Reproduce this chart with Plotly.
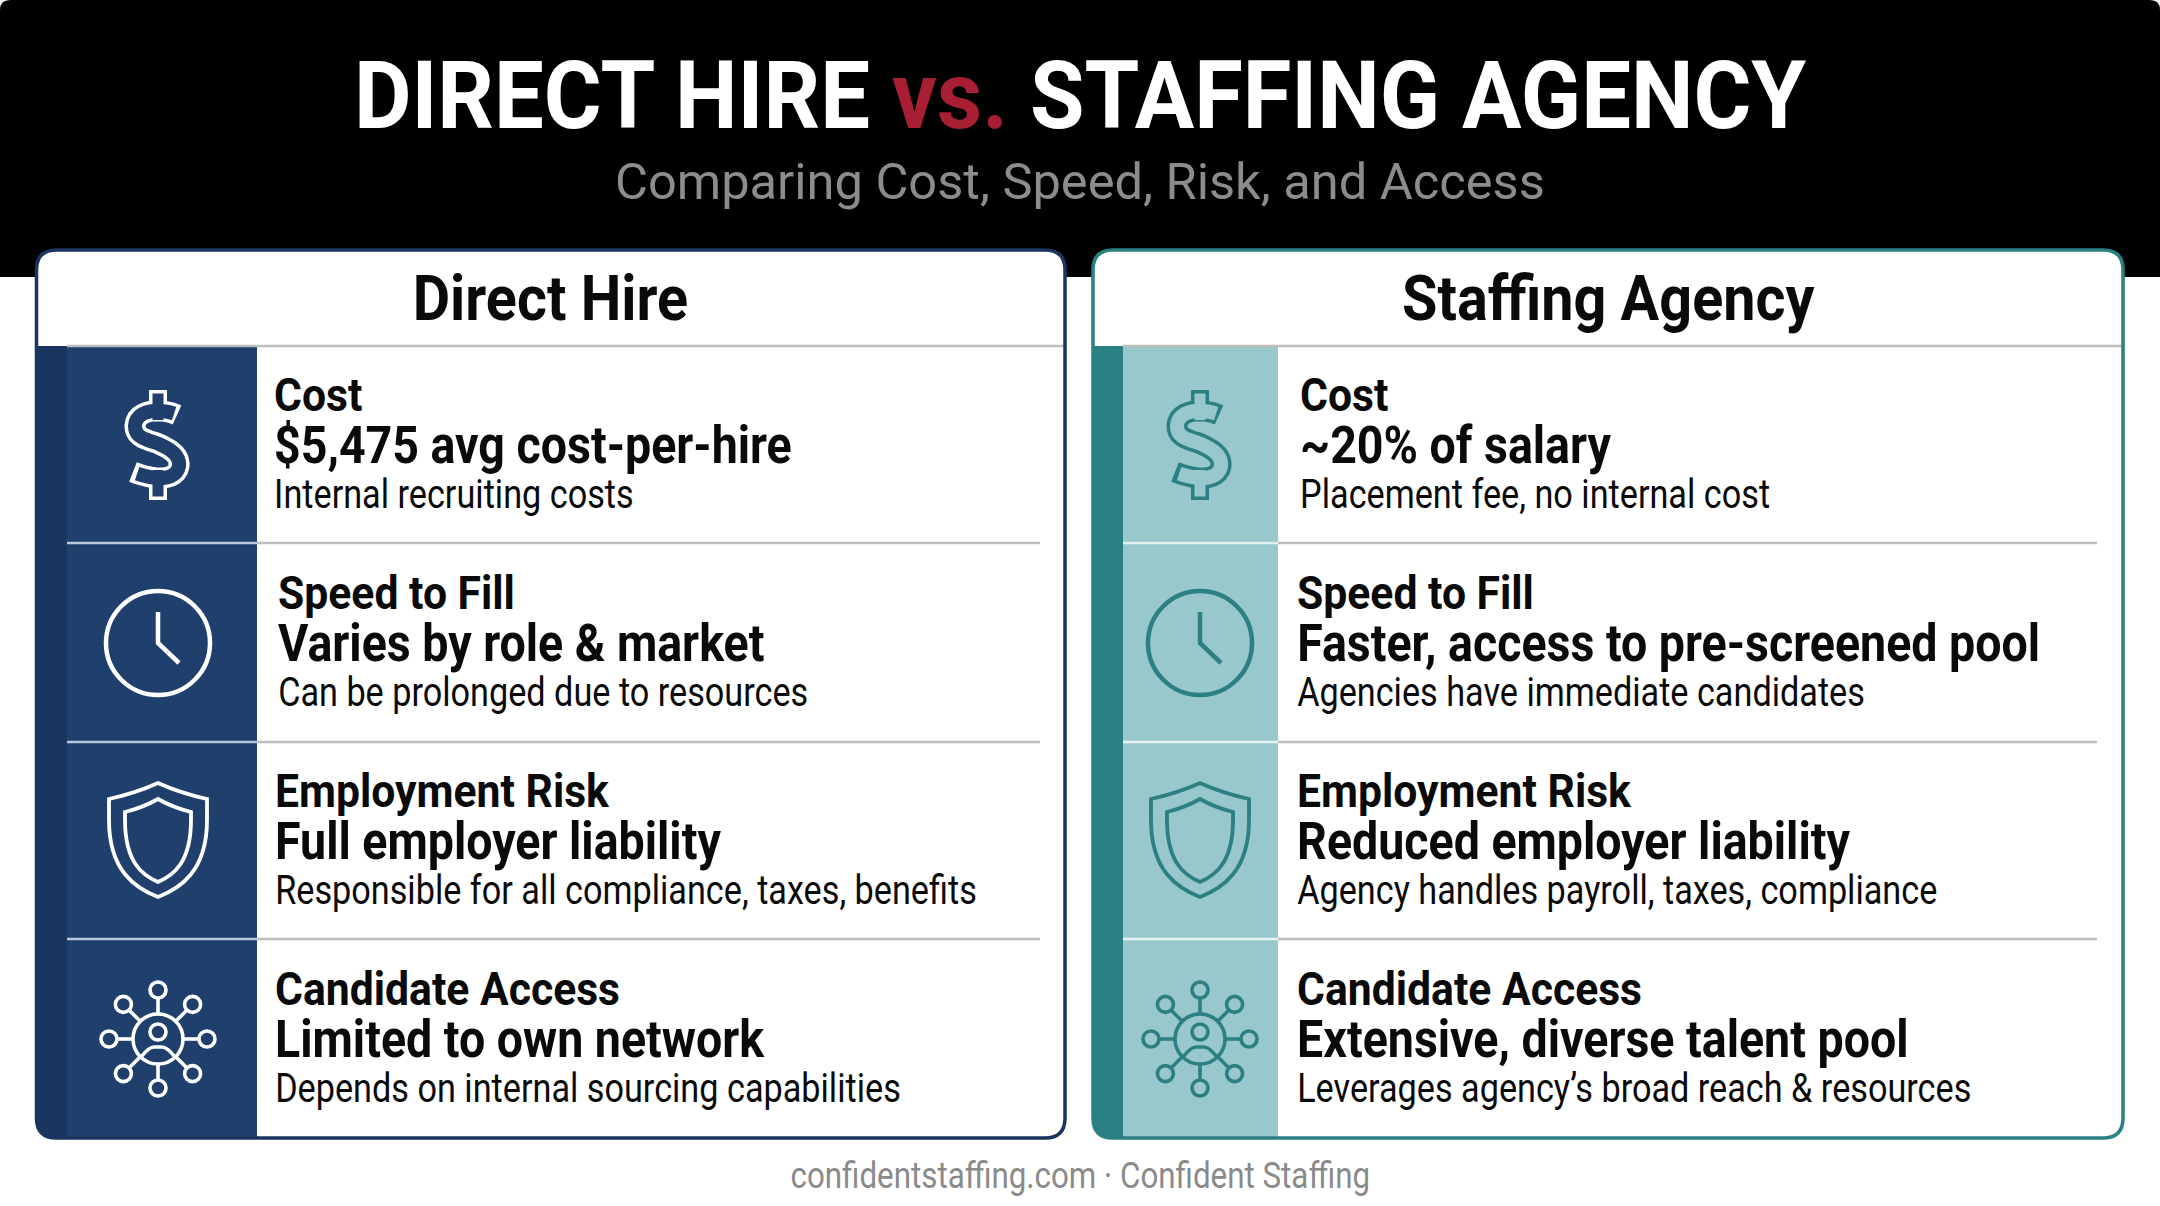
import json
import numpy as np
import plotly.graph_objects as go

W, H = 2160, 1206
TITLE_A, TITLE_VS, TITLE_B = "DIRECT HIRE", "vs.", "STAFFING AGENCY"
SUBTITLE = "Comparing Cost, Speed, Risk, and Access"
FOOTER = "confidentstaffing.com · Confident Staffing"
categories = ["Cost", "Speed to Fill", "Employment Risk", "Candidate Access"]
direct_name = "Direct Hire"
direct_values = ["$5,475 avg cost-per-hire", "Varies by role & market", "Full employer liability", "Limited to own network"]
direct_notes = ["Internal recruiting costs", "Can be prolonged due to resources",
                "Responsible for all compliance, taxes, benefits", "Depends on internal sourcing capabilities"]
agency_name = "Staffing Agency"
agency_values = ["~20% of salary", "Faster, access to pre-screened pool", "Reduced employer liability", "Extensive, diverse talent pool"]
agency_notes = ["Placement fee, no internal cost", "Agencies have immediate candidates",
                "Agency handles payroll, taxes, compliance", "Leverages agency’s broad reach & resources"]

row_tops = [346, 543, 742, 939, 1137]
text_tops = [346, 544, 742, 940]
ROBOTO = "Roboto, sans-serif"
shapes, notes, squeeze = [], [], []


def add(path, fill=None, line=None, width=0):
    s = dict(type="path", xref="x", yref="y", path=path, layer="above",
             line=dict(width=width, color=line or "rgba(0,0,0,0)"))
    if fill:
        s["fillcolor"] = fill
    shapes.append(s)


def rect(x0, y0, x1, y1, fill):
    add(f"M{x0},{y0}H{x1}V{y1}H{x0}Z", fill=fill)


def hline(x0, x1, y, color, w):
    add(f"M{x0},{y}H{x1}", line=color, width=w)


def rrect(x0, y0, x1, y1, r):
    return (f"M{x0+r},{y0}H{x1-r}Q{x1},{y0} {x1},{y0+r}V{y1-r}Q{x1},{y1} {x1-r},{y1}"
            f"H{x0+r}Q{x0},{y1} {x0},{y1-r}V{y0+r}Q{x0},{y0} {x0+r},{y0}Z")


def circle(cx, cy, r):
    k = 0.5523*r
    return (f"M{cx-r:.1f},{cy:.1f}C{cx-r:.1f},{cy-k:.1f} {cx-k:.1f},{cy-r:.1f} {cx:.1f},{cy-r:.1f}"
            f"C{cx+k:.1f},{cy-r:.1f} {cx+r:.1f},{cy-k:.1f} {cx+r:.1f},{cy:.1f}"
            f"C{cx+r:.1f},{cy+k:.1f} {cx+k:.1f},{cy+r:.1f} {cx:.1f},{cy+r:.1f}"
            f"C{cx-k:.1f},{cy+r:.1f} {cx-r:.1f},{cy+k:.1f} {cx-r:.1f},{cy:.1f}Z")


def text(x, y, s, size, color="#0a0a0a", bold=False, anchor="left", squeeze_x=1.0):
    notes.append(dict(x=x, y=y, xref="x", yref="y", text=f"<b>{s}</b>" if bold else s,
                      showarrow=False, xanchor=anchor, yanchor="middle",
                      font=dict(family=ROBOTO, size=size, color=color)))
    squeeze.append([squeeze_x, anchor])


def bez(p0, p1, p2, p3, n=14):
    t = np.linspace(0, 1, n)[:, None]
    p0, p1, p2, p3 = map(np.array, (p0, p1, p2, p3))
    return (1-t)**3*p0 + 3*(1-t)**2*t*p1 + 3*(1-t)*t**2*p2 + t**3*p3


def poly(pts):
    return "M" + "L".join(f"{x:.1f},{y:.1f}" for x, y in pts)


def dollar(cx, cy, col, bg):
    segs = [((19, -30), (8, -36), (-22, -38), (-23, -19)),
            ((-23, -19), (-23, -5), (-6, -5), (3, 0)),
            ((3, 0), (14, 5), (22, 11), (21, 21)),
            ((21, 21), (18, 38), (-8, 34), (-25, 27))]
    pts = np.vstack([bez(*s) for s in segs]) + np.array([cx, cy])
    rect(cx-9, cy-55, cx+9, cy-30, col)
    rect(cx-9, cy+30, cx+9, cy+55, col)
    add(poly(pts), line=col, width=21)
    rect(cx-5.5, cy-51.5, cx+5.5, cy-25, bg)
    rect(cx-5.5, cy+25, cx+5.5, cy+51.5, bg)
    add(poly(pts[1:-1]), line=bg, width=14)


def clock(cx, cy, col):
    add(circle(cx, cy, 52), line=col, width=4.5)
    add(f"M{cx},{cy-31}V{cy}L{cx+21},{cy+20}", line=col, width=4.5)


def shield(cx, cy, col):
    for top, sh_x, sh_y, bot in ((-57, 49, -41, 57), (-41, 33, -28, 42)):
        add(f"M{cx},{cy+top}Q{cx+sh_x*.45},{cy+(top+sh_y)/2+2} {cx+sh_x},{cy+sh_y}"
            f"V{cy-20}C{cx+sh_x},{cy+bot*.55} {cx+sh_x*.45},{cy+bot*.85} {cx},{cy+bot}"
            f"C{cx-sh_x*.45},{cy+bot*.85} {cx-sh_x},{cy+bot*.55} {cx-sh_x},{cy-20}"
            f"V{cy+sh_y}Q{cx-sh_x*.45},{cy+(top+sh_y)/2+2} {cx},{cy+top}Z", line=col, width=3.8)


def network(cx, cy, col):
    w = 3.6
    add(circle(cx, cy, 25), line=col, width=w)
    add(circle(cx, cy-7, 8), line=col, width=w)
    add(f"M{cx-17},{cy+18}Q{cx-9},{cy+8} {cx-4},{cy+8}H{cx+4}Q{cx+9},{cy+8} {cx+17},{cy+18}", line=col, width=w)
    for a in range(8):
        ang = a*np.pi/4
        ux, uy = np.cos(ang), np.sin(ang)
        r = 49
        add(f"M{cx+25*ux:.1f},{cy+25*uy:.1f}L{cx+(r-8)*ux:.1f},{cy+(r-8)*uy:.1f}", line=col, width=w)
        add(circle(cx+r*ux, cy+r*uy, 8), line=col, width=w)


def card(x0, x1, strip, panel, cx, name, vals, nts, strip_col, panel_col, icon_col, border, sep, text_x, rule_end):
    R = 20
    y0, y1 = 250, 1138
    add(rrect(x0, y0, x1, y1, R), fill="#ffffff")
    add(f"M{x0},{row_tops[0]}H{panel}V{y1}H{x0+R}Q{x0},{y1} {x0},{y1-R}Z", fill=panel_col)
    add(f"M{x0},{row_tops[0]}H{strip}V{y1}H{x0+R}Q{x0},{y1} {x0},{y1-R}Z", fill=strip_col)
    hline(strip, x1-1, row_tops[0], "#bdbdbd", 2.5)
    for y in row_tops[1:-1]:
        hline(strip, panel, y, sep, 2.5)
        hline(panel, rule_end, y, "#bdbdbd", 2.5)
    add(rrect(x0, y0, x1, y1, R), line=border, width=3.5)
    dollar(cx, 445, icon_col, panel_col)
    clock(cx, 643, icon_col)
    shield(cx, 840, icon_col)
    network(cx, 1039, icon_col)
    text((x0+x1)/2, 298, name, 62, bold=True, anchor="center", squeeze_x=0.928)
    for i, cat in enumerate(categories):
        top = text_tops[i]
        x = text_x[i]
        text(x, top+49, cat, 46, bold=True, squeeze_x=0.928)
        text(x, top+99, vals[i], 52, bold=True, squeeze_x=0.895)
        text(x, top+148, nts[i], 41, squeeze_x=0.835)


add(f"M10,0H{W-10}Q{W},0 {W},10V277H0V10Q0,0 10,0Z", fill="#000000")
text(W/2, 96, f'{TITLE_A} <span style="color:#a81e32">{TITLE_VS}</span> {TITLE_B}', 94, color="#ffffff",
     bold=True, anchor="center", squeeze_x=0.942)
text(W/2, 181, SUBTITLE, 50.6, color="#8c8c8c", anchor="center")
text(W/2, 1175, FOOTER, 37, color="#8a8a8a", anchor="center", squeeze_x=0.847)

card(36.5, 1065, 67, 257, 158, direct_name, direct_values, direct_notes, "#1a3560", "#1f3f6c", "#ffffff", "#1a3560", "#b9c7da",
     [272, 276, 273, 273], 1040)
card(1093, 2123, 1123, 1278, 1200, agency_name, agency_values, agency_notes, "#2a8082", "#98c8cb", "#2a8082", "#2a8082", "#e6f1f1",
     [1298, 1295, 1295, 1295], 2097)

fig = go.Figure()
fig.update_layout(width=W, height=H, margin=dict(l=0, r=0, t=0, b=0), paper_bgcolor="#ffffff", plot_bgcolor="#ffffff",
                  xaxis=dict(range=[0, W], visible=False, fixedrange=True),
                  yaxis=dict(range=[H, 0], visible=False, fixedrange=True),
                  shapes=shapes, annotations=notes, showlegend=False)

# Narrow the glyphs horizontally (no condensed face is installed), pivoting on each text's anchor.
post = """
document.body.style.margin='0';
var squeeze = %s;
function applySqueeze(){
  document.querySelectorAll('.annotation').forEach(function(a){
    var t = a.querySelector('.annotation-text');
    var s = squeeze[+a.getAttribute('data-index')];
    if(!t || !s || t.hasAttribute('data-sq')) return;
    var b = t.getBBox();
    var p = s[1]==='left' ? b.x : b.x + b.width/2;
    t.setAttribute('transform','translate('+p+',0) scale('+s[0]+',1) translate('+(-p)+',0)');
    t.setAttribute('data-sq','1');
  });
}
applySqueeze(); setTimeout(applySqueeze,30); setTimeout(applySqueeze,200);
""" % json.dumps(squeeze)
fig.write_html("out.html", config=dict(displayModeBar=False), post_script=post)
